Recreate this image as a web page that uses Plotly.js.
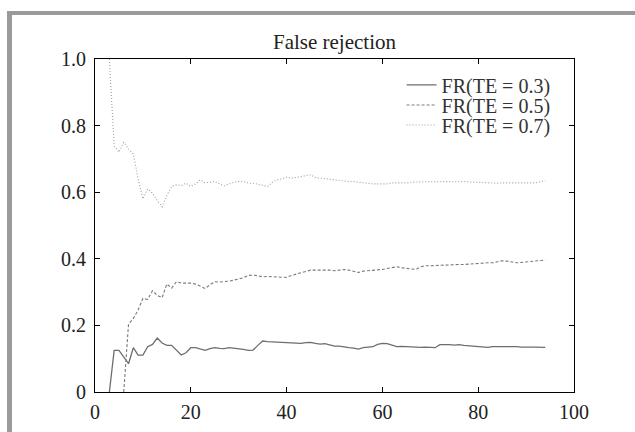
<!DOCTYPE html>
<html>
<head>
<meta charset="utf-8">
<script src="https://cdn.plot.ly/plotly-3.0.1.min.js"></script>
<style>
  html, body { margin: 0; padding: 0; background: #fff; }
  #wrap { position: relative; width: 635px; height: 432px; overflow: hidden; }
  #chart { width: 635px; height: 432px; }
  #frame { position: absolute; left: 7px; top: 11px; width: 640px; height: 440px;
           border-top: 4px solid #9a9a9a; border-left: 5px solid #9a9a9a; pointer-events: none; }
</style>
</head>
<body>
<div id="wrap"><div id="chart"></div><div id="frame"></div></div>
<script>
// Sample index (x) for the solid and dotted series, starting at 3
const xA = [];
for (let i = 3; i <= 94; i++) xA.push(i);
// Dashed series starts at 6
const xB = [];
for (let i = 6; i <= 94; i++) xB.push(i);

const fr03 = [0, 0.125, 0.125, 0.105, 0.085, 0.133, 0.111, 0.111, 0.136, 0.143,
  0.162, 0.147, 0.14, 0.14, 0.125, 0.111, 0.118, 0.133, 0.133, 0.128,
  0.125, 0.13, 0.133, 0.131, 0.13, 0.133, 0.132, 0.13, 0.128, 0.125,
  0.126, 0.14, 0.153, 0.151, 0.15, 0.151, 0.149, 0.148, 0.147, 0.145,
  0.146, 0.148, 0.149, 0.146, 0.144, 0.145, 0.141, 0.138, 0.138, 0.135,
  0.133, 0.132, 0.129, 0.133, 0.135, 0.136, 0.143, 0.146, 0.145, 0.14,
  0.136, 0.137, 0.136, 0.135, 0.136, 0.134, 0.135, 0.133, 0.133, 0.142,
  0.143, 0.142, 0.141, 0.142, 0.14, 0.139, 0.138, 0.136, 0.134, 0.134,
  0.136, 0.136, 0.137, 0.138, 0.137, 0.136, 0.135, 0.136, 0.135, 0.135,
  0.134, 0.134];

const fr05 = [0, 0.204, 0.221, 0.246, 0.281, 0.278, 0.304, 0.29, 0.283, 0.324,
  0.312, 0.331, 0.327, 0.328, 0.327, 0.324, 0.318, 0.311, 0.322, 0.331,
  0.33, 0.331, 0.333, 0.336, 0.339, 0.343, 0.35, 0.351, 0.349, 0.346,
  0.347, 0.346, 0.344, 0.343, 0.344, 0.35, 0.355, 0.358, 0.362, 0.366,
  0.366, 0.366, 0.367, 0.366, 0.364, 0.366, 0.368, 0.366, 0.362, 0.359,
  0.363, 0.364, 0.364, 0.365, 0.368, 0.371, 0.373, 0.376, 0.373, 0.371,
  0.369, 0.368, 0.376, 0.379, 0.379, 0.38, 0.381, 0.381, 0.382, 0.382,
  0.383, 0.383, 0.384, 0.386, 0.388, 0.387, 0.388, 0.388, 0.391, 0.394,
  0.393, 0.391, 0.388, 0.389, 0.391, 0.393, 0.394, 0.395, 0.396];

const fr07 = [1.0, 0.74, 0.72, 0.75, 0.73, 0.715, 0.64, 0.58, 0.61, 0.597,
  0.575, 0.556, 0.59, 0.617, 0.622, 0.62, 0.627, 0.617, 0.625, 0.637,
  0.628, 0.63, 0.632, 0.625, 0.619, 0.625, 0.63, 0.632, 0.632, 0.627,
  0.627, 0.624, 0.62, 0.617, 0.63, 0.637, 0.64, 0.645, 0.642, 0.644,
  0.648, 0.65, 0.652, 0.644, 0.642, 0.64, 0.638, 0.637, 0.636, 0.634,
  0.632, 0.632, 0.63, 0.628, 0.626, 0.625, 0.625, 0.624, 0.625, 0.628,
  0.628, 0.627, 0.628, 0.63, 0.631, 0.631, 0.632, 0.632, 0.631, 0.632,
  0.633, 0.632, 0.631, 0.632, 0.632, 0.631, 0.63, 0.63, 0.629, 0.628,
  0.628, 0.627, 0.628, 0.628, 0.627, 0.627, 0.627, 0.627, 0.627, 0.628,
  0.632, 0.635];

const seriesNames = ['FR(TE = 0.3)', 'FR(TE = 0.5)', 'FR(TE = 0.7)'];
const xTicks = [0, 20, 40, 60, 80, 100];
const yTicks = [0, 0.2, 0.4, 0.6, 0.8, 1.0];
const yTickText = ['0', '0.2', '0.4', '0.6', '0.8', '1.0'];

const font = 'Liberation Serif, Times New Roman, serif';

const traces = [
  { x: xA, y: fr03, name: seriesNames[0], type: 'scatter', mode: 'lines',
    line: { color: '#6e6e6e', width: 1.3 }, legend: 'legend' },
  { x: xB, y: fr05, name: seriesNames[1], type: 'scatter', mode: 'lines',
    line: { color: '#7a7a7a', width: 1.1, dash: '3px,2px' }, legend: 'legend2' },
  { x: xA, y: fr07, name: seriesNames[2], type: 'scatter', mode: 'lines',
    line: { color: '#9e9e9e', width: 1.1, dash: '1px,2px' }, legend: 'legend3' }
];

const legendBase = { bgcolor: 'rgba(0,0,0,0)', borderwidth: 0,
  font: { family: font, size: 20, color: '#333' }, xanchor: 'left', yanchor: 'middle' };

const layout = {
  width: 635, height: 432,
  margin: { l: 95, r: 61, t: 59, b: 40 },
  paper_bgcolor: '#fff', plot_bgcolor: '#fff',
  font: { family: font, color: '#222', size: 20 },
  title: { text: 'False rejection', font: { family: font, size: 21, color: '#222' },
           x: 0.5, xref: 'paper', xanchor: 'center', y: 1 - 42 / 432, yanchor: 'middle' },
  xaxis: { range: [0, 100], tickvals: xTicks, ticks: 'inside', ticklen: 5, tickcolor: '#000',
           showline: true, linecolor: '#000', linewidth: 1, mirror: 'ticks', showgrid: false,
           zeroline: false, ticklabelstandoff: 2,
           tickfont: { family: font, size: 20, color: '#222' } },
  yaxis: { range: [0, 1], tickvals: yTicks, ticktext: yTickText, ticks: 'inside', ticklen: 5,
           tickcolor: '#000', showline: true, linecolor: '#000', linewidth: 1, mirror: 'ticks',
           showgrid: false, zeroline: false, ticklabelstandoff: 4,
           tickfont: { family: font, size: 20, color: '#222' } },
  showlegend: true,
  legend: Object.assign({}, legendBase, { x: 0.64, y: 0.922 }),
  legend2: Object.assign({}, legendBase, { x: 0.64, y: 0.862 }),
  legend3: Object.assign({}, legendBase, { x: 0.64, y: 0.802 })
};

Plotly.newPlot('chart', traces, layout, { staticPlot: true, displayModeBar: false });
</script>
</body>
</html>
